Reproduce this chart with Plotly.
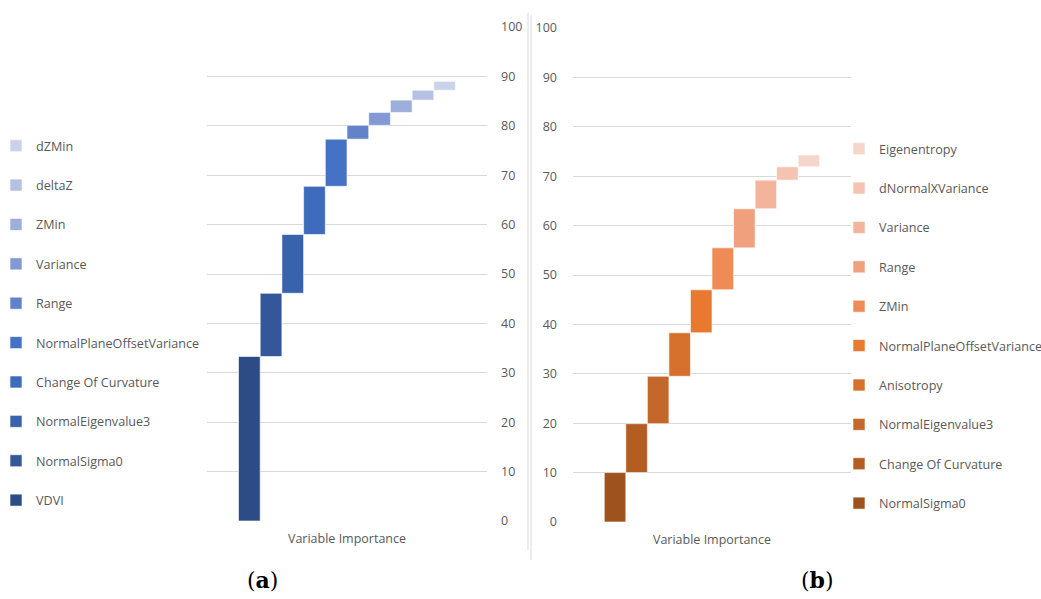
import plotly.graph_objects as go

category = ["Variable Importance"]

# Panel (a)
names_a = ["VDVI", "NormalSigma0", "NormalEigenvalue3", "Change Of Curvature",
           "NormalPlaneOffsetVariance", "Range", "Variance", "ZMin", "deltaZ", "dZMin"]
values_a = [33.3, 12.8, 11.9, 9.75, 9.55, 2.8, 2.6, 2.5, 2.0, 1.8]
colors_a = ["#2D4C86", "#335799", "#3962AC", "#3E6BBB", "#4472C4",
            "#6283C9", "#8299D3", "#9DAEDB", "#B5C1E3", "#CBD3EB"]

# Panel (b)
names_b = ["NormalSigma0", "Change Of Curvature", "NormalEigenvalue3", "Anisotropy",
           "NormalPlaneOffsetVariance", "ZMin", "Range", "Variance",
           "dNormalXVariance", "Eigenentropy"]
values_b = [10.0, 9.9, 9.6, 8.8, 8.7, 8.5, 7.9, 5.8, 2.7, 2.4]
colors_b = ["#9E521E", "#B45C22", "#C4672A", "#D5712D", "#E8792F",
            "#EE8B57", "#F0A07D", "#F4B49B", "#F5C4B1", "#F6D5CA"]

y_ticks = [0, 10, 20, 30, 40, 50, 60, 70, 80, 90, 100]

W, H = 1041, 599
FONT = "Open Sans"
GRAY = "#595959"

fig = go.Figure()

def add_panel(names, values, colors, xa, ya, leg):
    base = 0.0
    n_items = len(names)
    for i, (n, v, c) in enumerate(zip(names, values, colors)):
        fig.add_trace(go.Bar(
            x=category, y=[v], base=[base], name=n,
            marker=dict(color=c, line=dict(color="rgba(255,255,255,0.6)", width=1)),
            xaxis=xa, yaxis=ya, legend=leg, legendgroup=leg + str(i),
            legendrank=n_items - i,
            hovertemplate=n + ": %{y:.1f}<extra></extra>",
        ))
        base += v

add_panel(names_a, values_a, colors_a, "x", "y", "legend")
add_panel(names_b, values_b, colors_b, "x2", "y2", "legend2")

def px_x(p):
    return p / W

def px_y(p):
    return 1 - p / H

axis_font = dict(family=FONT, size=12.5, color=GRAY)
legend_font = dict(family=FONT, size=12.6, color=GRAY)

fig.update_layout(
    width=W, height=H,
    margin=dict(l=0, r=0, t=0, b=0, autoexpand=False),
    paper_bgcolor="white", plot_bgcolor="white",
    barmode="group", bargap=0.225, bargroupgap=0,
    font=dict(family=FONT, color=GRAY),
    xaxis=dict(domain=[px_x(207), px_x(487)], anchor="y", showgrid=False,
               showline=False, ticks="", tickfont=axis_font, ticklabelstandoff=8),
    yaxis=dict(domain=[px_y(521), px_y(27)], anchor="x", side="right",
               range=[0, 100], tickvals=y_ticks, showgrid=True, gridcolor="#D9D9D9",
               gridwidth=1, zeroline=False, showline=False, ticks="",
               tickfont=axis_font, ticklabelstandoff=13),
    xaxis2=dict(domain=[px_x(573), px_x(851)], anchor="y2", showgrid=False,
                showline=False, ticks="", tickfont=axis_font, ticklabelstandoff=8),
    yaxis2=dict(domain=[px_y(522), px_y(28)], anchor="x2", side="left",
                range=[0, 100], tickvals=y_ticks, showgrid=True, gridcolor="#D9D9D9",
                gridwidth=1, zeroline=False, showline=False, ticks="",
                tickfont=axis_font, ticklabelstandoff=15),
    legend=dict(x=px_x(-4), xanchor="left", y=px_y(131), yanchor="top",
                traceorder="grouped", tracegroupgap=20,
                font=legend_font, bgcolor="rgba(0,0,0,0)"),
    legend2=dict(x=px_x(839), xanchor="left", y=px_y(134), yanchor="top",
                 traceorder="grouped", tracegroupgap=20,
                 font=legend_font, bgcolor="rgba(0,0,0,0)"),
    showlegend=True,
)

# chart frame edges
fig.add_shape(type="line", xref="paper", yref="paper",
              x0=px_x(528), x1=px_x(528), y0=px_y(13), y1=px_y(550),
              line=dict(color="#D9D9D9", width=1))
fig.add_shape(type="line", xref="paper", yref="paper",
              x0=px_x(531), x1=px_x(531), y0=px_y(15), y1=px_y(560),
              line=dict(color="#D9D9D9", width=1))

# panel labels
for txt, xc in [("(<b>a</b>)", 262), ("(<b>b</b>)", 817)]:
    fig.add_annotation(text=txt, xref="paper", yref="paper",
                       x=px_x(xc), y=px_y(580), xanchor="center", yanchor="middle",
                       showarrow=False,
                       font=dict(family="DejaVu Serif", size=22, color="black"))

fig.write_html("out.html", config={"displayModeBar": False},
               post_script="document.body.style.margin='0';")
